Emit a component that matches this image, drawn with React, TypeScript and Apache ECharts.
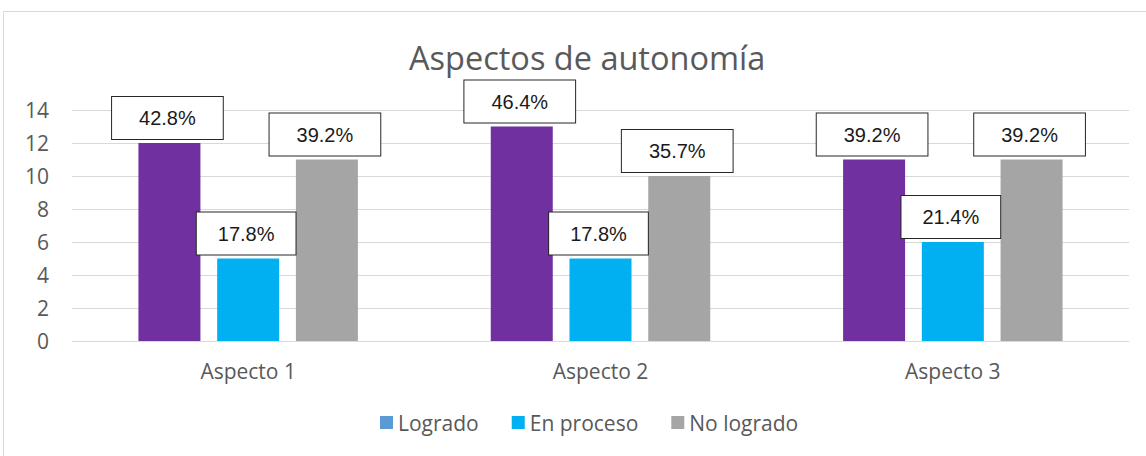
import React, { useEffect, useRef } from "react";
import * as echarts from "echarts";

const categories = ["Aspecto 1", "Aspecto 2", "Aspecto 3"];
const seriesNames = ["Logrado", "En proceso", "No logrado"];
const logrado = [12, 13, 11];
const enProceso = [5, 5, 6];
const noLogrado = [11, 10, 11];
const logradoLabels = ["42.8%", "46.4%", "39.2%"];
const enProcesoLabels = ["17.8%", "17.8%", "21.4%"];
const noLogradoLabels = ["39.2%", "35.7%", "39.2%"];

const FONT = "'Open Sans', 'Noto Sans', sans-serif";
const GREY_TEXT = "#595959";

function makeLabel(labels: string[], hPad: number) {
  return {
    show: true,
    position: "top",
    distance: 4,
    formatter: (p: any) => labels[p.dataIndex],
    fontFamily: "'Liberation Sans', Arial, sans-serif",
    fontSize: 20,
    lineHeight: 20,
    color: "#1a1a1a",
    backgroundColor: "#ffffff",
    borderColor: "#262626",
    borderWidth: 1,
    padding: [11, hPad, 11, hPad],
    offset: [-2, 0],
  };
}

export default function App() {
  const ref = useRef<HTMLDivElement>(null);
  useEffect(() => {
    if (!ref.current) return;
    const chart = echarts.init(ref.current, undefined, { renderer: "svg" });
    chart.setOption({
      animation: false,
      backgroundColor: "#ffffff",
      title: {
        text: "Aspectos de autonomía",
        left: 404,
        top: 36,
        textStyle: {
          fontFamily: FONT,
          fontSize: 32.5,
          fontWeight: "normal",
          color: GREY_TEXT,
        },
      },
      legend: {
        bottom: 18,
        left: 375,
        itemWidth: 13,
        itemHeight: 13,
        itemGap: 33,
        icon: "rect",
        textStyle: { fontFamily: FONT, fontSize: 21, color: GREY_TEXT },
        data: seriesNames,
      },
      grid: { left: 72, right: 17, top: 110, bottom: 115 },
      xAxis: {
        type: "category",
        data: categories,
        axisTick: { show: false },
        axisLine: { lineStyle: { color: "#d9d9d9", width: 1 } },
        axisLabel: {
          fontFamily: FONT,
          fontSize: 21,
          color: GREY_TEXT,
          margin: 19,
        },
      },
      yAxis: {
        type: "value",
        min: 0,
        max: 14,
        interval: 2,
        axisLine: { show: false },
        axisTick: { show: false },
        splitLine: { lineStyle: { color: "#d9d9d9", width: 1 } },
        axisLabel: {
          fontFamily: FONT,
          fontSize: 21,
          color: GREY_TEXT,
          margin: 23,
        },
      },
      graphic: [
        {
          type: "rect",
          shape: { x: 3.5, y: 11.5, width: 1160, height: 460 },
          style: { fill: "none", stroke: "#d9d9d9", lineWidth: 1 },
          silent: true,
          z: -1,
        },
      ],
      series: [
        {
          name: seriesNames[0],
          type: "bar",
          barWidth: 62,
          barGap: "27%",
          itemStyle: { color: "#5B9BD5" },
          data: logrado.map((v) => ({ value: v, itemStyle: { color: "#7030A0" } })),
          label: makeLabel(logradoLabels, 27),
        },
        {
          name: seriesNames[1],
          type: "bar",
          barWidth: 62,
          barGap: "27%",
          itemStyle: { color: "#00B0F0" },
          data: enProceso,
          label: makeLabel(enProcesoLabels, 21),
        },
        {
          name: seriesNames[2],
          type: "bar",
          barWidth: 62,
          barGap: "27%",
          itemStyle: { color: "#A5A5A5" },
          data: noLogrado,
          label: makeLabel(noLogradoLabels, 27),
        },
      ],
    });
    return () => chart.dispose();
  }, []);
  return (
    <div
      ref={ref}
      style={{ position: "absolute", left: 0, top: 0, width: 1146, height: 456 }}
    />
  );
}
